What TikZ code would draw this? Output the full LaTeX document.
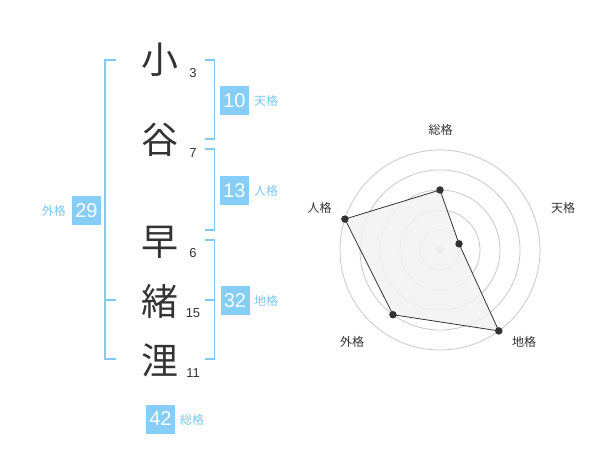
\documentclass[tikz,border=0pt]{standalone}
\usepackage{fontspec}
\setmainfont{Liberation Sans}
\newfontfamily\cjk{Noto Sans CJK JP}
\definecolor{boxblue}{HTML}{86CDF7}
\definecolor{lblblue}{HTML}{7CC6F0}
\definecolor{brk}{HTML}{82C9F5}
\definecolor{ink}{HTML}{333333}
\definecolor{ring}{HTML}{C8C8C8}
\definecolor{polyfill}{HTML}{F2F2F2}
\tikzset{
  kanji/.style={font=\cjk\fontsize{37}{37}\selectfont, text=ink, inner sep=0pt},
  strokes/.style={font=\fontsize{13}{13}\selectfont, text=ink, inner sep=0pt},
  numbox/.style={fill=boxblue, text=white, font=\fontsize{20}{20}\selectfont, minimum width=29pt, minimum height=29pt, inner sep=0pt},
  boxlbl/.style={font=\cjk\fontsize{12}{12}\selectfont, text=lblblue, inner sep=0pt},
  bracket/.style={draw=brk, line width=1.6pt},
  ringline/.style={draw=ring, line width=0.8pt},
  axlbl/.style={font=\cjk\fontsize{12}{12}\selectfont, text=ink, inner sep=0pt},
  dot/.style={circle, fill=ink, inner sep=0pt, minimum size=7.5pt},
}
\begin{document}
\begin{tikzpicture}[x=1pt, y=-1pt]
\useasboundingbox (0,0) rectangle (600,470);
% characters
\node[kanji] (k1) at (160,60) {小};
\node[kanji] (k2) at (160,140) {谷};
\node[kanji] (k3) at (160,242) {早};
\node[kanji] (k4) at (160,301) {緒};
\node[kanji] (k5) at (160,360) {浬};
\node[strokes] (s1) at (193,73) {3};
\node[strokes] (s2) at (193,153) {7};
\node[strokes] (s3) at (193,253) {6};
\node[strokes] (s4) at (193,313) {15};
\node[strokes] (s5) at (193,373) {11};
% brackets
\coordinate (la) at (116,60);
\coordinate (lb) at (105,60);
\coordinate (lc) at (105,359);
\coordinate (ld) at (116,359);
\coordinate (le) at (105,300);
\coordinate (lf) at (116,300);
\draw[bracket] (la) -- (lb) -- (lc) -- (ld);
\draw[bracket] (le) -- (lf);
\coordinate (t1) at (205,60);
\coordinate (t2) at (214.5,60);
\coordinate (t3) at (214.5,139);
\coordinate (t4) at (205,139);
\draw[bracket] (t1) -- (t2) -- (t3) -- (t4);
\coordinate (j1) at (205,149);
\coordinate (j2) at (214.5,149);
\coordinate (j3) at (214.5,230);
\coordinate (j4) at (205,230);
\draw[bracket] (j1) -- (j2) -- (j3) -- (j4);
\coordinate (c1) at (205,240);
\coordinate (c2) at (214.5,240);
\coordinate (c3) at (214.5,359);
\coordinate (c4) at (205,359);
\coordinate (c5) at (205,300);
\coordinate (c6) at (214.5,300);
\draw[bracket] (c1) -- (c2) -- (c3) -- (c4);
\draw[bracket] (c5) -- (c6);
% boxes
\node[numbox] (b10) at (234.5,100.5) {10};
\node[boxlbl, anchor=west] (l10) at (254,101) {天格};
\node[numbox] (b13) at (234.5,190.5) {13};
\node[boxlbl, anchor=west] (l13) at (254,191) {人格};
\node[numbox] (b32) at (235,300.5) {32};
\node[boxlbl, anchor=west] (l32) at (254,301) {地格};
\node[numbox] (b29) at (86.5,210.5) {29};
\node[boxlbl, anchor=east] (l29) at (66,211) {外格};
\node[numbox] (b42) at (160.5,419) {42};
\node[boxlbl, anchor=west] (l42) at (180,420) {総格};
% radar
\begin{scope}[shift={(440,250)}]
\foreach \r in {20,40,60,80,100} \draw[ringline] (0,0) circle[radius=\r pt];
\fill[ring] (0,0) circle[radius=4pt];
\coordinate (p1) at (90:60pt);
\coordinate (p2) at (18:20pt);
\coordinate (p3) at (-54:100pt);
\coordinate (p4) at (-126:80pt);
\coordinate (p5) at (162:100pt);
\draw[ink, fill=polyfill, fill opacity=0.85, line width=0.8pt] (p1) -- (p2) -- (p3) -- (p4) -- (p5) -- cycle;
\foreach \p in {p1,p2,p3,p4,p5} \node[dot] at (\p) {};
\end{scope}
\node[axlbl] (a1) at (440.5,130) {総格};
\node[axlbl] (a2) at (563,208) {天格};
\node[axlbl] (a3) at (319.5,208) {人格};
\node[axlbl] (a4) at (352,342) {外格};
\node[axlbl] (a5) at (524,342) {地格};
\end{tikzpicture}
\end{document}
